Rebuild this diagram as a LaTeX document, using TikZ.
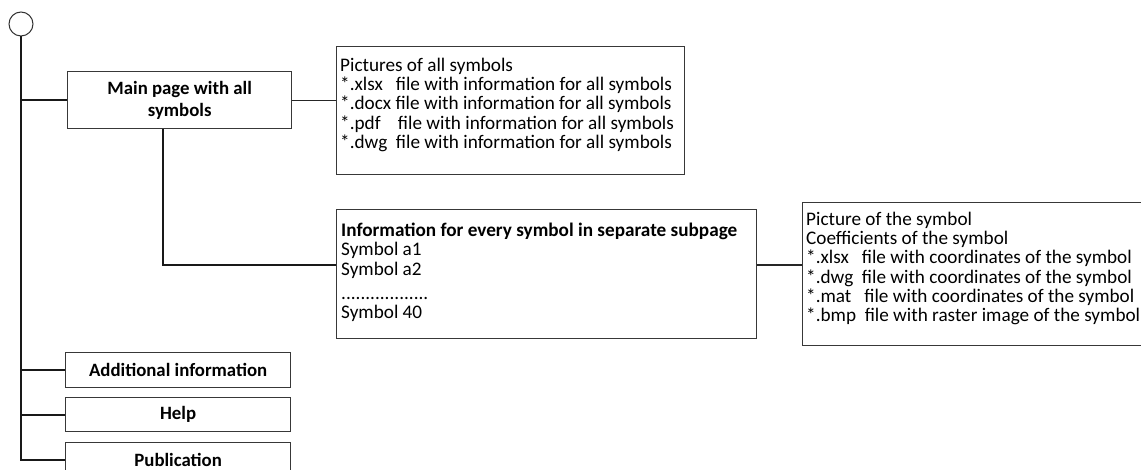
\documentclass[tikz,border=0pt]{standalone}
\usepackage{fontspec}
\setmainfont{Carlito}
\begin{document}
\begin{tikzpicture}[x=1pt,y=-1pt,
  box/.style={draw=black!78,line width=1.3pt,inner sep=0pt,fill=white,anchor=north west},
  txt/.style={anchor=north west,align=left,inner sep=0pt,font=\fontsize{19.2}{19.2}\selectfont},
  bbox/.style={box,align=center,font=\fontsize{18.8}{22.5}\selectfont\bfseries},
  tree/.style={line width=2.2pt,black!90},
  thin/.style={line width=1.1pt,black!85}]
\useasboundingbox (0,0) rectangle (1141,470);
\clip (0,0) rectangle (1141,470);
\node[circle,draw=black!80,line width=1pt,minimum size=24pt,inner sep=0pt] (root) at (21,24) {};
\node[bbox,minimum width=224pt,minimum height=57pt] (main) at (67,71) {Main page with all\\symbols};
\node[box,minimum width=348pt,minimum height=128pt] (all) at (336,46) {};
\node[txt] (allt) at ([shift={(4,12)}]all.north west) {Pictures of all symbols\\{*}.xlsx\ \ \ file with information for all symbols\\{*}.docx file with information for all symbols\\{*}.pdf\ \ \ \ file with information for all symbols\\{*}.dwg\ \ file with information for all symbols};
\node[box,minimum width=420pt,minimum height=129pt] (info) at (336,209) {};
\node[txt] (infot) at ([shift={(5,14)}]info.north west) {\textbf{Information for every symbol in separate subpage}\\Symbol a1\\Symbol a2\\[5pt]..................\\Symbol 40};
\node[box,minimum width=345pt,minimum height=143pt] (sym) at (802,202) {};
\node[txt] (symt) at ([shift={(4,10)}]sym.north west) {Picture of the symbol\\Coefficients of the symbol\\{*}.xlsx\ \ \ file with coordinates of the symbol\\{*}.dwg\ \ file with coordinates of the symbol\\{*}.mat\ \ \ file with coordinates of the symbol\\{*}.bmp\ \ file with raster image of the symbol};
\node[bbox,minimum width=225pt,minimum height=35pt] (add) at (65,352) {Additional information};
\node[bbox,minimum width=225pt,minimum height=34pt] (help) at (65,397) {Help};
\node[bbox,minimum width=225pt,minimum height=34pt] (pub) at (65,442) {Publication};
\coordinate (bend) at (163,265);
\draw[tree] (root.south) -- (root.south |- pub.west) -- (pub.west);
\draw[tree] (root.south |- main.west) -- (main.west);
\draw[tree] (root.south |- add.west) -- (add.west);
\draw[tree] (root.south |- help.west) -- (help.west);
\draw[tree] (main.south -| bend) -- (bend) -- (bend -| info.west);
\draw[thin] (main.east) -- (all.west |- main.east);
\draw[thin] (info.east |- bend) -- (sym.west |- bend);
\end{tikzpicture}
\end{document}
